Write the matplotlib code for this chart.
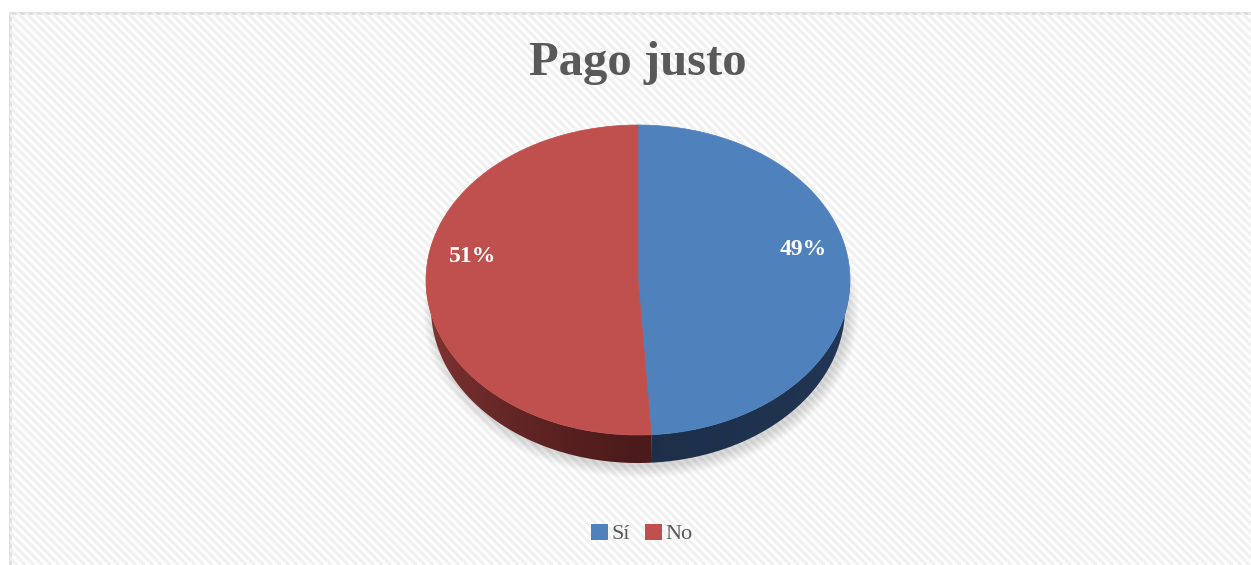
import numpy as np
import matplotlib.pyplot as plt
from matplotlib.colors import to_rgb
from matplotlib.patches import Polygon, Rectangle, Ellipse, Patch

# survey answers
labels = ['Sí', 'No']
values = [49, 51]
colors = ['#4f81bd', '#c0504d']
side_outer = ['#223858', '#863836']
side_front = ['#1d2f48', '#4b1a1a']

W, H = 1251, 565
fig = plt.figure(figsize=(W / 100, H / 100), dpi=100)
ax = fig.add_axes([0, 0, 1, 1])
ax.set_xlim(0, W)
ax.set_ylim(H, 0)
ax.axis('off')

# chart area with faint diagonal stripes
frame = Rectangle((10, 13), W, H, facecolor='white', edgecolor='#d9d9d9', lw=1.8, zorder=0)
ax.add_patch(frame)
for x0 in np.arange(-H, W, 8.5):
    ln, = ax.plot([x0, x0 + H], [0, H], color='#f1f1f1', lw=2.2, zorder=0.5,
                  solid_capstyle='butt')
    ln.set_clip_path(frame)

ax.text(638, 63, 'Pago justo', ha='center', va='center', fontsize=35,
        fontweight='bold', family='Liberation Serif', color='#595959')

# 3d pie geometry (pixel units)
cx, cy, rx, ry, depth = 638, 280, 212, 155, 28
rx_bot = rx - 5


def pt(theta, dy=0.0, r=rx):
    # theta clockwise from 12 o'clock, degrees
    t = np.radians(theta)
    return cx + r * np.sin(t), cy - ry * np.cos(t) + dy


# soft shadow under the pie
for k in range(12):
    ax.add_patch(Ellipse((cx + 3, cy + depth + 4), 2 * rx_bot + 2 * k, 2 * ry + 2 * k,
                         facecolor='black', edgecolor='none', alpha=0.012, zorder=1))

fracs = np.array(values) / sum(values)
bounds = np.concatenate([[0], np.cumsum(fracs) * 360])

# side walls, front half only (90..270 deg), shaded with a gradient
xs = np.linspace(cx - rx, cx + rx, 400)
for i in range(len(values)):
    a0, a1 = max(bounds[i], 90), min(bounds[i + 1], 270)
    if a1 <= a0:
        continue
    ss = np.linspace(a0, a1, 200)
    verts = [pt(s) for s in ss] + [pt(s, depth, rx_bot) for s in ss[::-1]]
    wall = Polygon(verts, closed=True, facecolor='none', edgecolor='none', zorder=2)
    ax.add_patch(wall)
    # darker toward the front of the pie
    w = 1 - np.abs(xs - cx) / rx
    w = np.clip(w, 0, 1) ** 0.6
    c_out, c_fr = np.array(to_rgb(side_outer[i])), np.array(to_rgb(side_front[i]))
    grad = c_out[None, :] + (c_fr - c_out)[None, :] * w[:, None]
    img = ax.imshow(grad[None, :, :], extent=(cx - rx, cx + rx, cy + ry + depth + 2, cy - 10),
                    aspect='auto', interpolation='bilinear', zorder=2)
    img.set_clip_path(wall)
ax.set_xlim(0, W)
ax.set_ylim(H, 0)

# top face
for i in range(len(values)):
    ss = np.linspace(bounds[i], bounds[i + 1], 200)
    verts = [(cx, cy)] + [pt(s) for s in ss]
    ax.add_patch(Polygon(verts, closed=True, facecolor=colors[i],
                         edgecolor=colors[i], lw=0.5, zorder=3))

# percentage labels
for i, v in enumerate(values):
    mid = (bounds[i] + bounds[i + 1]) / 2
    lx, ly = pt(mid)
    lx = cx + (lx - cx) * 0.78
    ly = cy + (ly - cy) * 0.78 - 27
    ax.text(lx, ly, f'{v}%', ha='center', va='center', fontsize=17,
            fontweight='bold', family='Liberation Serif', color='white', zorder=4)

handles = [Patch(facecolor=c, edgecolor='none', label=l) for c, l in zip(colors, labels)]
leg = ax.legend(handles=handles, loc='center', bbox_to_anchor=(642 / W, 1 - 534 / H),
                ncol=2, frameon=False, handlelength=0.75, handleheight=0.75,
                handletextpad=0.15, columnspacing=0.7,
                prop={'family': 'Liberation Serif', 'size': 16})
for t in leg.get_texts():
    t.set_color('#595959')

fig.savefig('out.png', dpi=100)
